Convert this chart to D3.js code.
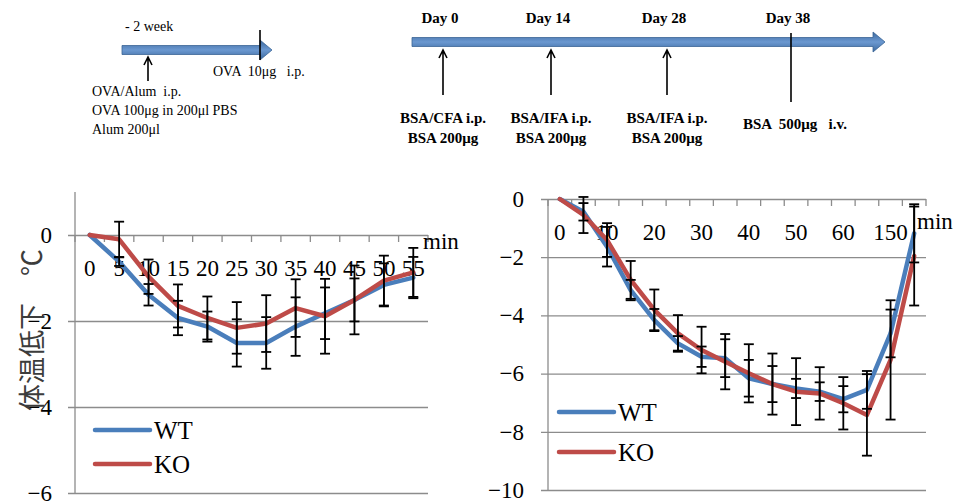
<!DOCTYPE html>
<html>
<head>
<meta charset="utf-8">
<script src="https://cdn.jsdelivr.net/npm/d3@7"></script>
<style>
  body { margin: 0; background: #fff; }
  svg { display: block; font-family: 'Liberation Serif', 'Times New Roman', serif; }
  svg text { font-family: 'Liberation Serif', 'Times New Roman', serif; white-space: pre; }
  svg text.cjk { font-family: 'Noto Sans CJK JP', sans-serif; }
</style>
</head>
<body>
<div id="chart"></div>
<script>
// left panel: OVA model, min after challenge
const leftCategories = ['0', '5', '10', '15', '20', '25', '30', '35', '40', '45', '50', '55'];
const leftWT = [0, -0.62, -1.39, -1.93, -2.13, -2.51, -2.51, -2.13, -1.82, -1.51, -1.16, -0.99];
const leftWTErr = [0, 0.1, 0.25, 0.4, 0.35, 0.55, 0.6, 0.68, 0.6, 0.5, 0.5, 0.48];
const leftKO = [0, -0.1, -0.97, -1.65, -1.93, -2.16, -2.06, -1.7, -1.89, -1.51, -1.06, -0.87];
const leftKOErr = [0, 0.41, 0.4, 0.5, 0.5, 0.6, 0.66, 0.67, 0.87, 0.8, 0.58, 0.57];
const leftYTicks = [0, -2, -4, -6];

// right panel: BSA model
const rightCategories = ['0', '5', '10', '15', '20', '25', '30', '35', '40', '45', '50', '55', '60', '120', '150', '180'];
const rightWT = [0, -0.44, -1.64, -3.13, -4.16, -4.96, -5.42, -5.47, -6.16, -6.36, -6.51, -6.62, -6.88, -6.56, -4.62, -1.18];
const rightWTErr = [0, 0.3, 0.68, 0.35, 0.38, 0.25, 0.35, 0.65, 0.63, 0.62, 0.33, 0.32, 0.45, 0.65, 0.82, 1.0];
const rightKO = [0, -0.55, -1.41, -2.78, -3.81, -4.62, -5.19, -5.59, -5.99, -6.36, -6.62, -6.68, -7.02, -7.42, -5.53, -1.96];
const rightKOErr = [0, 0.62, 0.58, 0.65, 0.7, 0.63, 0.8, 0.95, 1.0, 1.05, 1.15, 0.9, 0.9, 1.4, 2.05, 1.7];
const rightYTicks = [0, -2, -4, -6, -8, -10];

// protocol timelines
const bsaDays = [0, 14, 28, 38];
const bsaDayLabels = ['Day 0', 'Day 14', 'Day 28', 'Day 38'];
const bsaInjections = [['BSA/CFA i.p.', 'BSA 200μg'], ['BSA/IFA i.p.', 'BSA 200μg'], ['BSA/IFA i.p.', 'BSA 200μg']];
const bsaChallenge = 'BSA  500μg   i.v.';
const ovaSensitize = ['OVA/Alum  i.p.', 'OVA 100μg in 200μl PBS', 'Alum 200μl'];
const ovaChallenge = 'OVA  10μg   i.p.';
const ovaInterval = '- 2 week';

const SERIF = "'Liberation Serif', 'Times New Roman', serif";
const BLUE = '#4a7ebb';
const RED = '#be4b48';
const GRID = '#8c8c8c';

const svg = d3.select('#chart')
  .append('svg')
  .attr('width', 959)
  .attr('height', 504)
  .attr('font-family', SERIF);

svg.append('rect').attr('width', 959).attr('height', 504).attr('fill', '#fff');

const grad = svg.append('defs')
  .append('linearGradient')
  .attr('id', 'arrowFill')
  .attr('x1', 0).attr('y1', 0).attr('x2', 0).attr('y2', 1);
grad.append('stop').attr('offset', '0%').attr('stop-color', '#3b689e');
grad.append('stop').attr('offset', '50%').attr('stop-color', '#6b98d0');
grad.append('stop').attr('offset', '100%').attr('stop-color', '#3b689e');

const drawBigArrow = (x0, x1, y) => {
  svg.append('path')
    .attr('d', `M${x0},${y - 4.5} L${x1 - 12},${y - 4.5} L${x1 - 12},${y - 10} L${x1},${y} L${x1 - 12},${y + 10} L${x1 - 12},${y + 4.5} L${x0},${y + 4.5} Z`)
    .attr('fill', 'url(#arrowFill)')
    .attr('stroke', '#3a6496')
    .attr('stroke-width', 0.8);
};

const drawUpArrow = (x, yTop, yBottom) => {
  svg.append('path')
    .attr('d', `M${x},${yBottom} L${x},${yTop} M${x - 4},${yTop + 8} L${x},${yTop} L${x + 4},${yTop + 8}`)
    .attr('fill', 'none')
    .attr('stroke', '#000')
    .attr('stroke-width', 1.6);
};

const drawMark = (x, y1, y2) => {
  svg.append('line')
    .attr('x1', x).attr('x2', x).attr('y1', y1).attr('y2', y2)
    .attr('stroke', '#000').attr('stroke-width', 1.6);
};

// ---- OVA timeline
drawBigArrow(122, 272, 50);
svg.append('text').attr('x', 125).attr('y', 31).attr('font-size', 14).text(ovaInterval);
drawUpArrow(148, 57, 81);
drawMark(260, 30, 60);
svg.append('text').attr('x', 213).attr('y', 76).attr('font-size', 14).text(ovaChallenge);
svg.selectAll('.ova-line')
  .data(ovaSensitize)
  .enter()
  .append('text')
  .attr('class', 'ova-line')
  .attr('x', 92)
  .attr('y', (d, i) => 96 + i * 19)
  .attr('font-size', 14)
  .text(d => d);

// ---- BSA timeline
const dayX = d3.scaleLinear().domain(bsaDays).range([443, 551, 667, 791]);
drawBigArrow(412, 885, 42);
svg.selectAll('.day-label')
  .data(bsaDays)
  .enter()
  .append('text')
  .attr('class', 'day-label')
  .attr('x', d => dayX(d) - 3)
  .attr('y', 23)
  .attr('text-anchor', 'middle')
  .attr('font-size', 15)
  .attr('font-weight', 'bold')
  .text((d, i) => bsaDayLabels[i]);

bsaInjections.forEach((lines, i) => {
  const cx = dayX(bsaDays[i]);
  drawUpArrow(cx, 50, 95);
  lines.forEach((t, j) => {
    svg.append('text')
      .attr('x', cx)
      .attr('y', 123 + j * 20)
      .attr('text-anchor', 'middle')
      .attr('font-size', 15)
      .attr('font-weight', 'bold')
      .text(t);
  });
});
drawMark(dayX(38), 33, 102);
svg.append('text')
  .attr('x', dayX(38) + 4)
  .attr('y', 129)
  .attr('text-anchor', 'middle')
  .attr('font-size', 15)
  .attr('font-weight', 'bold')
  .text(bsaChallenge);

// ---- line charts
const drawChart = (cfg) => {
  const x = d3.scaleBand().domain(cfg.categories).range([cfg.left, cfg.right]);
  const y = d3.scaleLinear().domain(cfg.yDomain).range([cfg.bottom, cfg.top]);
  const g = svg.append('g');
  const cx = d => x(d) + x.bandwidth() / 2;

  // y axis with gridlines
  const yAxis = g.append('g')
    .attr('transform', `translate(${cfg.left - 7}, 0)`)
    .call(
      d3.axisLeft(y)
        .tickValues(cfg.yTicks)
        .tickSize(-(cfg.right - cfg.left + 7))
        .tickPadding(cfg.labelPad)
        .tickFormat(d3.format('d'))
    )
    .attr('font-family', SERIF)
    .attr('font-size', 23);
  yAxis.select('.domain').remove();
  yAxis.selectAll('line').attr('stroke', GRID).attr('stroke-width', 1.3);
  yAxis.selectAll('text').attr('fill', '#000');

  g.append('line')
    .attr('x1', cfg.left).attr('x2', cfg.left)
    .attr('y1', cfg.top).attr('y2', cfg.bottom)
    .attr('stroke', GRID).attr('stroke-width', 1.3);

  // category ticks on the zero line
  const bounds = cfg.categories.map(c => x(c)).concat([cfg.right]);
  g.selectAll('.cat-tick')
    .data(bounds)
    .enter()
    .append('line')
    .attr('x1', d => d).attr('x2', d => d)
    .attr('y1', y(0)).attr('y2', y(0) + 7)
    .attr('stroke', GRID).attr('stroke-width', 1.3);

  g.selectAll('.cat-label')
    .data(cfg.categories.filter((c, i) => i % cfg.labelStep === 0))
    .enter()
    .append('text')
    .attr('x', d => cx(d))
    .attr('y', y(0) + cfg.labelDy)
    .attr('text-anchor', 'middle')
    .attr('font-size', 23)
    .text(d => d);

  g.append('text')
    .attr('x', cfg.minX)
    .attr('y', cfg.minY)
    .attr('font-size', 23)
    .text('min');

  const line = d3.line()
    .x((d, i) => cx(cfg.categories[i]))
    .y(d => y(d));

  const series = [
    { values: cfg.wt, err: cfg.wtErr, color: BLUE, name: 'WT' },
    { values: cfg.ko, err: cfg.koErr, color: RED, name: 'KO' }
  ];

  series.forEach(s => {
    g.append('path')
      .datum(s.values)
      .attr('d', line)
      .attr('fill', 'none')
      .attr('stroke', s.color)
      .attr('stroke-width', 4.5)
      .attr('stroke-linejoin', 'round')
      .attr('stroke-linecap', 'round');
  });

  series.forEach(s => {
    const bars = s.values
      .map((v, i) => ({ c: cfg.categories[i], v, e: s.err[i] }))
      .filter(d => d.e > 0);
    const eb = g.selectAll(null).data(bars).enter().append('g');
    eb.append('line')
      .attr('x1', d => cx(d.c)).attr('x2', d => cx(d.c))
      .attr('y1', d => y(d.v + d.e)).attr('y2', d => y(d.v - d.e))
      .attr('stroke', '#000').attr('stroke-width', 1.8);
    [1, -1].forEach(sign => {
      eb.append('line')
        .attr('x1', d => cx(d.c) - 5).attr('x2', d => cx(d.c) + 5)
        .attr('y1', d => y(d.v + sign * d.e)).attr('y2', d => y(d.v + sign * d.e))
        .attr('stroke', '#000').attr('stroke-width', 1.8);
    });
  });

  // legend
  series.forEach((s, i) => {
    const ly = cfg.legendY + i * cfg.legendGap;
    g.append('line')
      .attr('x1', cfg.legendX).attr('x2', cfg.legendX + 55)
      .attr('y1', ly).attr('y2', ly)
      .attr('stroke', s.color).attr('stroke-width', 4.5)
      .attr('stroke-linecap', 'round');
    g.append('text')
      .attr('x', cfg.legendX + 59)
      .attr('y', ly + 9)
      .attr('font-size', 25)
      .text(s.name);
  });
};

drawChart({
  categories: leftCategories,
  wt: leftWT, wtErr: leftWTErr, ko: leftKO, koErr: leftKOErr,
  yTicks: leftYTicks, yDomain: [-6, 1],
  left: 75, right: 428, top: 192, bottom: 493,
  labelPad: 16, labelStep: 1, labelDy: 41,
  minX: 423, minY: 249,
  legendX: 95, legendY: 430, legendGap: 34
});

drawChart({
  categories: rightCategories,
  wt: rightWT, wtErr: rightWTErr, ko: rightKO, koErr: rightKOErr,
  yTicks: rightYTicks, yDomain: [-10, 0],
  left: 548, right: 926, top: 199, bottom: 490,
  labelPad: 17, labelStep: 2, labelDy: 41,
  minX: 917, minY: 229,
  legendX: 559, legendY: 412, legendGap: 40
});

// y axis title
svg.append('text')
  .attr('class', 'cjk')
  .attr('transform', 'translate(30, 330) rotate(-90)')
  .attr('text-anchor', 'middle')
  .attr('dominant-baseline', 'central')
  .attr('font-size', 27)
  .attr('fill', '#3c3c3c')
  .text('体温低下　℃');
</script>
</body>
</html>
